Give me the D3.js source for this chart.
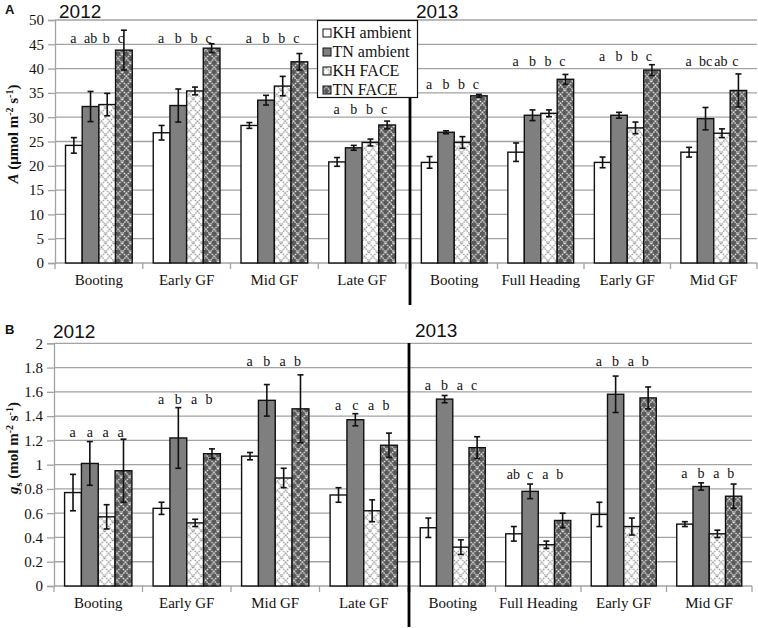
<!DOCTYPE html>
<html><head><meta charset="utf-8">
<script src="https://cdn.jsdelivr.net/npm/d3@7"></script>
<style>body{margin:0;background:#fff}svg{display:block}svg text{font-family:"Liberation Serif","Times New Roman",serif}svg text.sans{font-family:"Liberation Sans",Arial,sans-serif}</style>
</head><body>
<script>
// ---------------- DATA ----------------
const series = ["KH ambient", "TN ambient", "KH FACE", "TN FACE"];
const stages2012 = ["Booting", "Early GF", "Mid GF", "Late GF"];
const stages2013 = ["Booting", "Full Heading", "Early GF", "Mid GF"];

// Panel A: net photosynthesis A (µmol m-2 s-1)
const A_mean_2012 = [[24.2, 32.2, 32.6, 43.8], [26.8, 32.4, 35.4, 44.2], [28.3, 33.5, 36.4, 41.4], [20.8, 23.7, 24.8, 28.4]];
const A_err_2012  = [[1.6, 3.1, 2.3, 4.1], [1.5, 3.4, 0.8, 0.9], [0.6, 1.0, 2.0, 1.7], [0.9, 0.5, 0.7, 0.8]];
const A_mean_2013 = [[20.7, 26.9, 24.8, 34.4], [22.8, 30.4, 30.8, 37.8], [20.7, 30.4, 27.8, 39.7], [22.8, 29.7, 26.7, 35.5]];
const A_err_2013  = [[1.2, 0.3, 1.2, 0.3], [1.9, 1.1, 0.7, 1.0], [1.1, 0.6, 1.2, 1.1], [1.0, 2.3, 0.9, 3.4]];
const A_letters_2012 = [["a", "ab", "b", "c"], ["a", "b", "b", "c"], ["a", "b", "b", "c"], ["a", "b", "b", "c"]];
const A_letters_2013 = [["a", "b", "b", "c"], ["a", "b", "b", "c"], ["a", "b", "b", "c"], ["a", "bc", "ab", "c"]];
const A_letterLevel_2012 = [45.3, 45.3, 45.3, 30.7];
const A_letterLevel_2013 = [35.9, 40.6, 41.6, 40.5];
const A_ticks = [0, 5, 10, 15, 20, 25, 30, 35, 40, 45, 50];

// Panel B: stomatal conductance gs (mol m-2 s-1)
const gs_mean_2012 = [[0.77, 1.01, 0.57, 0.95], [0.64, 1.22, 0.52, 1.09], [1.07, 1.53, 0.89, 1.46], [0.75, 1.37, 0.62, 1.16]];
const gs_err_2012  = [[0.15, 0.18, 0.10, 0.26], [0.05, 0.25, 0.03, 0.04], [0.03, 0.13, 0.08, 0.28], [0.06, 0.05, 0.09, 0.10]];
const gs_mean_2013 = [[0.48, 1.54, 0.32, 1.14], [0.43, 0.78, 0.34, 0.54], [0.59, 1.58, 0.49, 1.55], [0.51, 0.82, 0.43, 0.74]];
const gs_err_2013  = [[0.08, 0.03, 0.06, 0.09], [0.06, 0.06, 0.03, 0.06], [0.10, 0.15, 0.07, 0.09], [0.02, 0.03, 0.03, 0.10]];
const gs_letters_2012 = [["a", "a", "a", "a"], ["a", "b", "a", "b"], ["a", "b", "a", "b"], ["a", "c", "a", "b"]];
const gs_letters_2013 = [["a", "b", "a", "c"], ["ab", "c", "a", "b"], ["a", "b", "a", "b"], ["a", "b", "a", "b"]];
const gs_letterLevel_2012 = [1.23, 1.50, 1.81, 1.45];
const gs_letterLevel_2013 = [1.615, 0.88, 1.815, 0.89];
const gs_ticks = [0, 0.2, 0.4, 0.6, 0.8, 1, 1.2, 1.4, 1.6, 1.8, 2];

// ---------------- DRAWING ----------------
const W = 758, H = 628;
const SERIF = "Liberation Serif";
const svg = d3.select("body").append("svg").attr("width", W).attr("height", H);

const defs = svg.append("defs");
function lattice(id, bg, fg, dash) {
  const w = 8.34, h = 9;
  const p = defs.append("pattern").attr("id", id).attr("patternUnits", "userSpaceOnUse")
    .attr("width", w).attr("height", h).attr("x", 0.5).attr("y", 0);
  p.append("rect").attr("width", w).attr("height", h).attr("fill", bg);
  [[0, 0, w, h], [w, 0, 0, h]].forEach(c => p.append("line")
    .attr("x1", c[0]).attr("y1", c[1]).attr("x2", c[2]).attr("y2", c[3])
    .attr("stroke", fg).attr("stroke-width", 1.3).attr("stroke-dasharray", dash));
}
lattice("pKH", "#ffffff", "#9a9a9a", "1.6,0.9");
lattice("pTN", "#5a5a5a", "#e6e6e6", "1.6,0.9");
const fills = ["#ffffff", "#7f7f7f", "url(#pKH)", "url(#pTN)"];
const GRID = "#a3a3a3";

function drawPanel(cfg) {
  const g = svg.append("g");
  const y = d3.scaleLinear().domain(cfg.domain).range([cfg.yBottom, cfg.yTop]);

  // gridlines
  g.selectAll("line.grid").data(cfg.ticks.slice(1)).join("line")
    .attr("x1", cfg.gridX[0]).attr("x2", cfg.gridX[1])
    .attr("y1", d => y(d)).attr("y2", d => y(d))
    .attr("stroke", GRID).attr("stroke-width", 1.3);

  // y axis
  const ax = g.append("g").attr("transform", `translate(${cfg.gridX[0]},0)`)
    .call(d3.axisLeft(y).tickValues(cfg.ticks).tickSize(7).tickPadding(4)
      .tickFormat(d3.format("~g")));
  ax.attr("font-family", SERIF);
  ax.select(".domain").attr("stroke", GRID).attr("stroke-width", 1.3);
  ax.selectAll(".tick line").attr("stroke", GRID).attr("stroke-width", 1.3);
  ax.selectAll(".tick text").attr("font-family", SERIF).attr("font-size", 15).attr("fill", "#111");

  // x baseline
  g.append("line").attr("x1", cfg.gridX[0]).attr("x2", cfg.gridX[1])
    .attr("y1", y(0)).attr("y2", y(0)).attr("stroke", GRID).attr("stroke-width", 1.3);

  cfg.halves.forEach(h => {
    const x = d3.scaleBand().domain(h.stages).range(h.range).paddingInner(0).paddingOuter(0);
    const xi = d3.scaleBand().domain(series).range([0, x.bandwidth()]).paddingInner(0).paddingOuter(0.63);

    // category boundary ticks
    const bounds = h.stages.map(s => x(s)).concat([h.range[1]]);
    g.selectAll(null).data(bounds).join("line")
      .attr("x1", d => d).attr("x2", d => d).attr("y1", y(0)).attr("y2", y(0) + 6)
      .attr("stroke", GRID).attr("stroke-width", 1.3);
    // labels
    g.selectAll(null).data(h.stages).join("text")
      .attr("x", d => x(d) + x.bandwidth() / 2).attr("y", cfg.labelY)
      .attr("font-family", SERIF)
      .attr("text-anchor", "middle").attr("font-size", 15).attr("fill", "#111").text(d => d);

    h.stages.forEach((st, i) => {
      const gg = g.append("g").attr("transform", `translate(${x(st)},0)`);
      const rows = series.map((s, j) => ({ s, j, v: h.mean[i][j], e: h.err[i][j], l: h.letters[i][j] }));
      gg.selectAll("rect").data(rows).join("rect")
        .attr("x", d => xi(d.s)).attr("width", xi.bandwidth())
        .attr("y", d => y(d.v)).attr("height", d => y(0) - y(d.v))
        .attr("fill", d => fills[d.j]).attr("stroke", "#111").attr("stroke-width", 1.4);
      const eb = gg.selectAll("g.eb").data(rows).join("g");
      const cx = d => xi(d.s) + xi.bandwidth() / 2;
      eb.append("line").attr("x1", cx).attr("x2", cx)
        .attr("y1", d => y(d.v - d.e)).attr("y2", d => y(d.v + d.e));
      eb.append("line").attr("x1", d => cx(d) - 3).attr("x2", d => cx(d) + 3)
        .attr("y1", d => y(d.v - d.e)).attr("y2", d => y(d.v - d.e));
      eb.append("line").attr("x1", d => cx(d) - 3).attr("x2", d => cx(d) + 3)
        .attr("y1", d => y(d.v + d.e)).attr("y2", d => y(d.v + d.e));
      eb.selectAll("line").attr("stroke", "#111").attr("stroke-width", 1.6);
      const off = [-0.5, 0, -1, -3];
      gg.selectAll("text").data(rows).join("text")
        .attr("x", d => cx(d) + off[d.j]).attr("y", y(h.level[i]))
        .attr("font-family", SERIF)
        .attr("text-anchor", "middle").attr("font-size", 14).attr("fill", "#111").text(d => d.l);
    });
  });

  // divider
  g.append("line").attr("x1", cfg.divider.x).attr("x2", cfg.divider.x)
    .attr("y1", cfg.divider.y1).attr("y2", cfg.divider.y2).attr("stroke", "#000").attr("stroke-width", 2.8);

  // year labels
  cfg.years.forEach(yr => g.append("text").attr("class", "sans").attr("x", yr.x).attr("y", yr.y)
    .attr("font-family", "Liberation Sans").attr("font-size", 19).attr("fill", "#111").text(yr.t));
  // panel letter
  g.append("text").attr("class", "sans").attr("x", 5).attr("y", cfg.letterY).attr("font-family", "Liberation Sans")
    .attr("font-weight", "bold").attr("font-size", 13).attr("fill", "#111").text(cfg.panel);

  // y title
  const t = g.append("text").attr("transform", `translate(18,${cfg.titleY}) rotate(-90)`)
    .attr("font-family", SERIF)
    .attr("text-anchor", "middle").attr("font-weight", "bold").attr("font-size", 15).attr("fill", "#111");
  cfg.title(t);
}

drawPanel({
  panel: "A", letterY: 14, domain: [0, 50], ticks: A_ticks, yBottom: 263, yTop: 20,
  gridX: [55, 757], labelY: 285, titleY: 134,
  divider: { x: 410, y1: 20, y2: 305 },
  years: [{ t: "2012", x: 59, y: 17.5 }, { t: "2013", x: 416, y: 17.5 }],
  halves: [
    { stages: stages2012, range: [55, 406], mean: A_mean_2012, err: A_err_2012, letters: A_letters_2012, level: A_letterLevel_2012 },
    { stages: stages2013, range: [411, 757], mean: A_mean_2013, err: A_err_2013, letters: A_letters_2013, level: A_letterLevel_2013 }
  ],
  title: t => {
    t.append("tspan").attr("font-style", "italic").text("A");
    t.append("tspan").text(" (μmol m");
    t.append("tspan").attr("dy", -5).attr("font-size", 10).text("-2");
    t.append("tspan").attr("dy", 5).text(" s");
    t.append("tspan").attr("dy", -5).attr("font-size", 10).text("-1");
    t.append("tspan").attr("dy", 5).text(")");
  }
});

drawPanel({
  panel: "B", letterY: 334, domain: [0, 2], ticks: gs_ticks, yBottom: 586, yTop: 343.3,
  gridX: [54, 752], labelY: 608, titleY: 448,
  divider: { x: 409, y1: 343, y2: 627 },
  years: [{ t: "2012", x: 53, y: 338 }, { t: "2013", x: 415, y: 337 }],
  halves: [
    { stages: stages2012, range: [54, 408], mean: gs_mean_2012, err: gs_err_2012, letters: gs_letters_2012, level: gs_letterLevel_2012 },
    { stages: stages2013, range: [410, 752], mean: gs_mean_2013, err: gs_err_2013, letters: gs_letters_2013, level: gs_letterLevel_2013 }
  ],
  title: t => {
    t.append("tspan").attr("font-style", "italic").text("g");
    t.append("tspan").attr("dy", 4).attr("font-size", 10).text("s");
    t.append("tspan").attr("dy", -4).text(" (mol m");
    t.append("tspan").attr("dy", -5).attr("font-size", 10).text("-2");
    t.append("tspan").attr("dy", 5).text(" s");
    t.append("tspan").attr("dy", -5).attr("font-size", 10).text("-1");
    t.append("tspan").attr("dy", 5).text(")");
  }
});

// legend
const lg = svg.append("g").attr("transform", "translate(317.5,20.5)");
lg.append("rect").attr("width", 100).attr("height", 77).attr("fill", "#fff").attr("stroke", "#111").attr("stroke-width", 1.2);
series.forEach((s, j) => {
  const r = lg.append("g").attr("transform", `translate(0,${j * 19})`);
  r.append("rect").attr("x", 5.5).attr("y", 8.5).attr("width", 8).attr("height", 8)
    .attr("fill", fills[j]).attr("stroke", "#111").attr("stroke-width", 1);
  r.append("text").attr("x", 15).attr("y", 17.5).attr("font-family", SERIF)
    .attr("font-size", 16).attr("fill", "#111").text(s);
});
</script>
</body></html>
